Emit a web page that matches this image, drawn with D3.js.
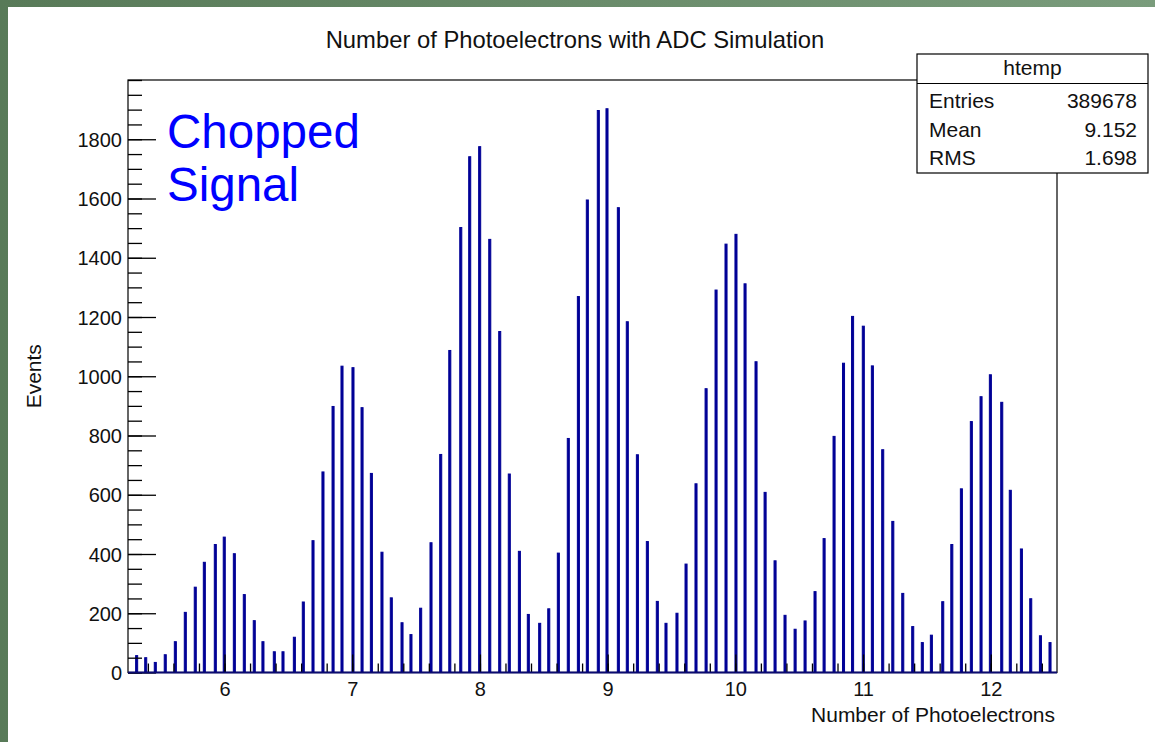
<!DOCTYPE html>
<html>
<head>
<meta charset="utf-8">
<script src="https://cdn.jsdelivr.net/npm/d3@7"></script>
<style>
  html, body { margin: 0; padding: 0; }
  body { width: 1155px; height: 742px; overflow: hidden; }
  svg { display: block; }
</style>
</head>
<body>
<script>
// ---------------- data ----------------
const chartTitle = "Number of Photoelectrons with ADC Simulation";
const xAxisTitle = "Number of Photoelectrons";
const yAxisTitle = "Events";
const annotationLines = ["Chopped", "Signal"];

// position of each populated bin (number of photoelectrons)
const binCenters = [
  5.312, 5.383, 5.458, 5.536, 5.615, 5.693, 5.771, 5.842, 5.928, 5.998,
  6.077, 6.155, 6.233, 6.301, 6.390, 6.458, 6.547, 6.617, 6.693, 6.771,
  6.850, 6.920, 7.006, 7.077, 7.150, 7.233, 7.306, 7.390, 7.460, 7.536,
  7.617, 7.693, 7.764, 7.850, 7.920, 7.998, 8.077, 8.155, 8.230, 8.309,
  8.379, 8.468, 8.539, 8.614, 8.692, 8.771, 8.841, 8.927, 8.995, 9.084,
  9.154, 9.233, 9.311, 9.389, 9.457, 9.543, 9.614, 9.692, 9.771, 9.849,
  9.927, 10.005, 10.076, 10.162, 10.233, 10.311, 10.389, 10.468, 10.546, 10.624,
  10.695, 10.773, 10.847, 10.918, 11.002, 11.073, 11.154, 11.233, 11.311, 11.389,
  11.464, 11.535, 11.624, 11.695, 11.770, 11.848, 11.924, 11.997, 12.086, 12.153,
  12.240, 12.313, 12.389, 12.464
];
// events in each of those bins
const binCounts = [
  57, 50, 34, 60, 104, 203, 288, 372, 432, 457,
  401, 263, 175, 104, 70, 70, 119, 238, 445, 677,
  898, 1034, 1029, 894, 672, 406, 252, 168, 128, 217,
  438, 736, 1087, 1502, 1741, 1775, 1462, 1151, 670, 409,
  196, 166, 215, 403, 790, 1269, 1595, 1897, 1903, 1569,
  1184, 735, 442, 240, 166, 200, 366, 637, 958, 1291,
  1446, 1479, 1312, 1049, 608, 377, 193, 146, 174, 273,
  452, 797, 1044, 1202, 1169, 1035, 752, 510, 267, 155,
  101, 126, 239, 432, 620, 847, 931, 1005, 912, 615,
  417, 249, 124, 101
];

const xTickValues = [6, 7, 8, 9, 10, 11, 12];
const yTickValues = [0, 200, 400, 600, 800, 1000, 1200, 1400, 1600, 1800];

const statsTitle = "htemp";
const statsLabels = ["Entries", "Mean", "RMS"];
const statsValues = ["389678", "9.152", "1.698"];

// ---------------- layout ----------------
const W = 1155, H = 742;
const frame = { left: 128, right: 1057, top: 80, bottom: 672.5 };
const FONT = "'Liberation Sans', Arial, Helvetica, sans-serif";
const histColor = "#000096";
const halfBin = 0.008;

const svg = d3.select("body").append("svg")
  .attr("width", W).attr("height", H);

// slide background
const defs = svg.append("defs");
const grad = defs.append("linearGradient").attr("id", "bg")
  .attr("x1", "0%").attr("y1", "0%").attr("x2", "100%").attr("y2", "0%");
grad.append("stop").attr("offset", "0%").attr("stop-color", "#587a58");
grad.append("stop").attr("offset", "100%").attr("stop-color", "#7a9c7c");
svg.append("rect").attr("width", W).attr("height", H).attr("fill", "url(#bg)");
svg.append("rect").attr("x", 8).attr("y", 7).attr("width", W - 8).attr("height", H - 7)
  .attr("fill", "#ffffff");

const x = d3.scaleLinear().domain([5.2443, 12.5187]).range([frame.left, frame.right]);
const y = d3.scaleLinear().domain([0, 2000]).range([frame.bottom, frame.top]);

// title
svg.append("text")
  .attr("x", 575).attr("y", 48)
  .attr("text-anchor", "middle")
  .attr("font-family", FONT).attr("font-size", 23.8)
  .attr("fill", "#111")
  .text(chartTitle);

// histogram spikes
svg.append("g").selectAll("rect")
  .data(binCenters.map((c, i) => ({ c, n: binCounts[i] })))
  .join("rect")
  .attr("x", d => x(d.c - halfBin))
  .attr("width", d => x(d.c + halfBin) - x(d.c - halfBin))
  .attr("y", d => y(d.n))
  .attr("height", d => y(0) - y(d.n))
  .attr("fill", histColor)
  .attr("stroke", histColor)
  .attr("stroke-width", 1);

// axes
const yMinor = d3.range(0, 2001, 50);
const xMinor = d3.range(5.4, 12.51, 0.2);

const gy = svg.append("g").attr("transform", `translate(${frame.left},0)`);
gy.call(d3.axisLeft(y).tickValues(yMinor).tickSizeInner(-14).tickSizeOuter(0).tickFormat(""));
gy.append("g").call(d3.axisLeft(y).tickValues(yTickValues).tickSizeInner(-28)
  .tickSizeOuter(0).tickPadding(6).tickFormat(d3.format("d")));
gy.selectAll(".domain").remove();
gy.selectAll("line").attr("stroke", "#000").attr("stroke-width", 1.3);
gy.selectAll("text").attr("font-family", FONT).attr("font-size", 20)
  .attr("fill", "#111").attr("dy", "0.36em");

const gx = svg.append("g").attr("transform", `translate(0,${frame.bottom})`);
gx.call(d3.axisBottom(x).tickValues(xMinor).tickSizeInner(-9).tickSizeOuter(0).tickFormat(""));
gx.append("g").call(d3.axisBottom(x).tickValues(xTickValues).tickSizeInner(-18)
  .tickSizeOuter(0).tickPadding(9).tickFormat(d3.format("d")));
gx.selectAll(".domain").remove();
gx.selectAll("line").attr("stroke", "#000").attr("stroke-width", 1.3);
gx.selectAll("text").attr("font-family", FONT).attr("font-size", 20)
  .attr("fill", "#111").attr("dy", "0.71em");

// frame
svg.append("rect")
  .attr("x", frame.left).attr("y", frame.top)
  .attr("width", frame.right - frame.left).attr("height", frame.bottom - frame.top)
  .attr("fill", "none").attr("stroke", "#000").attr("stroke-width", 1.2);
// histogram baseline
svg.append("line")
  .attr("x1", frame.left).attr("x2", frame.right)
  .attr("y1", y(0)).attr("y2", y(0))
  .attr("stroke", "#0a0a70").attr("stroke-width", 2.2);

// axis titles
svg.append("text")
  .attr("x", frame.right - 2).attr("y", 722)
  .attr("text-anchor", "end")
  .attr("font-family", FONT).attr("font-size", 21)
  .attr("fill", "#111")
  .text(xAxisTitle);
svg.append("text")
  .attr("transform", `translate(41,${(frame.top + frame.bottom) / 2}) rotate(-90)`)
  .attr("text-anchor", "middle")
  .attr("font-family", FONT).attr("font-size", 21)
  .attr("fill", "#111")
  .text(yAxisTitle);

// annotation
svg.append("g").selectAll("text")
  .data(annotationLines)
  .join("text")
  .attr("x", 167)
  .attr("y", (d, i) => 148 + i * 53)
  .attr("font-family", FONT).attr("font-size", 47.5)
  .attr("fill", "#0000ff")
  .text(d => d);

// stats box
const box = { x0: 917, x1: 1148, y0: 54, y1: 173, sep: 83.5 };
const sb = svg.append("g");
sb.append("rect")
  .attr("x", box.x0).attr("y", box.y0)
  .attr("width", box.x1 - box.x0).attr("height", box.y1 - box.y0)
  .attr("fill", "#fff").attr("stroke", "#000").attr("stroke-width", 1.2);
sb.append("line")
  .attr("x1", box.x0).attr("x2", box.x1).attr("y1", box.sep).attr("y2", box.sep)
  .attr("stroke", "#000").attr("stroke-width", 1.2);
sb.append("text")
  .attr("x", (box.x0 + box.x1) / 2).attr("y", 75)
  .attr("text-anchor", "middle")
  .attr("font-family", FONT).attr("font-size", 21).attr("fill", "#111")
  .text(statsTitle);
sb.selectAll("text.lab").data(statsLabels).join("text").attr("class", "lab")
  .attr("x", 929).attr("y", (d, i) => 108 + i * 28.5)
  .attr("font-family", FONT).attr("font-size", 21).attr("fill", "#111")
  .text(d => d);
sb.selectAll("text.val").data(statsValues).join("text").attr("class", "val")
  .attr("x", 1137).attr("y", (d, i) => 108 + i * 28.5)
  .attr("text-anchor", "end")
  .attr("font-family", FONT).attr("font-size", 21).attr("fill", "#111")
  .text(d => d);
</script>
</body>
</html>
